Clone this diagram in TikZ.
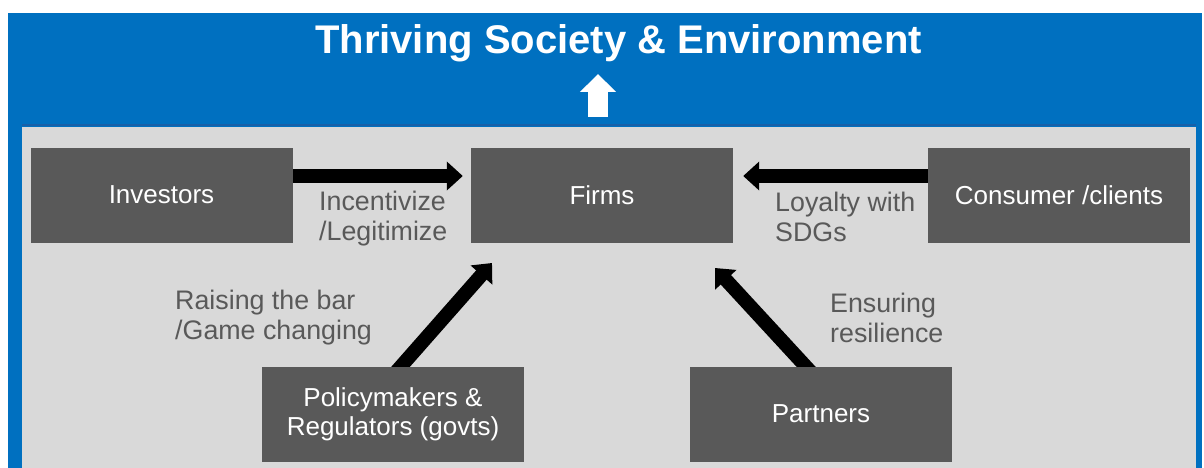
\documentclass[tikz,border=0pt]{standalone}
\usepackage{fontspec}
\setmainfont{Liberation Sans}
\usetikzlibrary{arrows.meta,backgrounds}

\definecolor{bandblue}{HTML}{0070C0}
\definecolor{bandedge}{HTML}{1860A8}
\definecolor{panelgray}{HTML}{D9D9D9}
\definecolor{boxgray}{HTML}{595959}

\tikzset{
  actor/.style={fill=boxgray, draw=none, minimum width=262pt, minimum height=95pt,
    inner sep=0pt, text=white, align=center, font=\fontsize{26}{29}\selectfont},
  note/.style={anchor=west, align=left, inner sep=0pt, text=boxgray,
    font=\fontsize{26.8}{30}\selectfont},
  bigarrow/.style={draw=black, line width=14pt, -{Triangle[length=16pt,width=28pt]}},
  uparrow/.style={draw=white, line width=20pt, -{Triangle[length=18pt,width=35pt]}}
}

\begin{document}
\begin{tikzpicture}[x=1pt,y=-1pt]
  \useasboundingbox (0,0) rectangle (1204,468);

  % title and stakeholder boxes
  \node[anchor=base, text=white, inner sep=0pt, font=\bfseries\fontsize{40}{44}\selectfont]
    (title) at (618.5,54) {Thriving Society \& Environment};

  \node[actor] (inv)   at (161.5,195) {Investors};
  \node[actor] (firms) at (602,195.5) {Firms};
  \node[actor] (cons)  at (1059,195) {Consumer /clients};
  \node[actor] (pol)   at (393,414) {Policymakers \&\\Regulators (govts)};
  \node[actor] (par)   at (821,414) {Partners};

  % relation labels
  \node[note] (inc) at (319,219) {Incentivize\\/Legitimize};
  \node[note] (loy) at (775,217) {Loyalty with\\SDGs};
  \node[note] (rai) at (175,318) {Raising the bar\\/Game changing};
  \node[note] (ens) at (830,318) {Ensuring\\resilience};

  \coordinate (polTip) at (492,263);
  \coordinate (parTip) at (715,268);
  \coordinate (upBase) at (598,117);
  \coordinate (upTip)  at (598,74);

  \begin{scope}[on background layer]
    % frame: blue band with grey working panel
    \fill[bandblue] (8,13) rectangle (1202,468);
    \fill[panelgray] (22,127) rectangle (1196,468);
    \draw[bandedge, line width=2pt] (22,125) -- (1196,125);

    % arrow towards the overall goal
    \draw[uparrow] (upBase) -- (upTip);

    % influence arrows into the firm
    \draw[bigarrow] ([xshift=-8pt,yshift=19pt]inv.east) -- ([xshift=-8pt,yshift=19.5pt]firms.west);
    \draw[bigarrow] ([xshift=8pt,yshift=19pt]cons.west) -- ([xshift=10pt,yshift=19.5pt]firms.east);
    \draw[bigarrow] ([xshift=1pt,yshift=-8pt]pol.north) -- (polTip);
    \draw[bigarrow] ([xshift=-8pt,yshift=-8pt]par.north) -- (parTip);
  \end{scope}
\end{tikzpicture}
\end{document}
